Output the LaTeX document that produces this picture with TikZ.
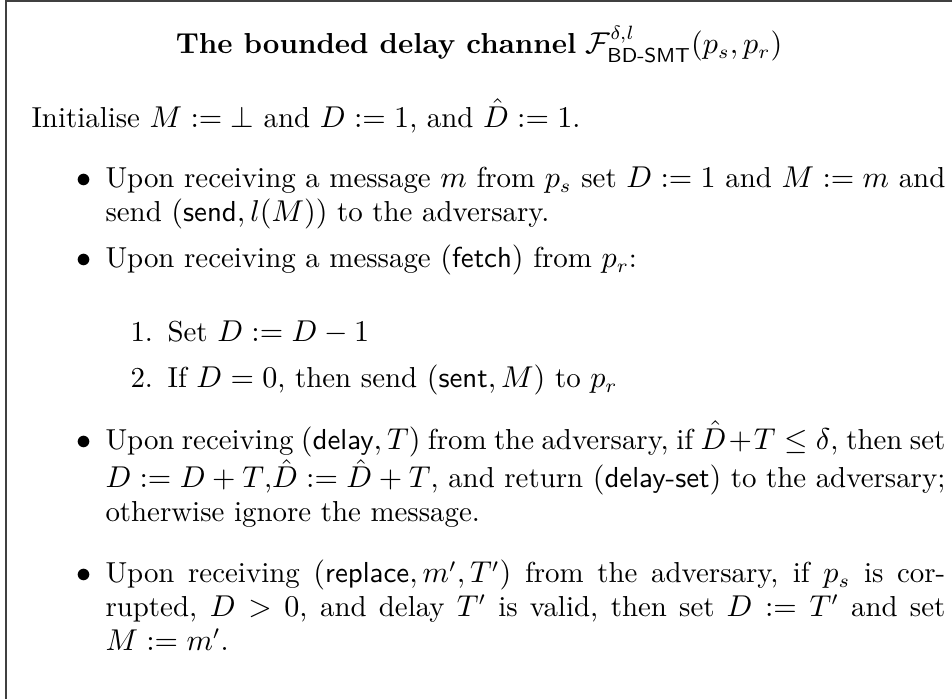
\documentclass[tikz,border=0pt]{standalone}
\usepackage{amsmath,amssymb}
\usepackage{xcolor}
\usepackage{tikz}

\begin{document}
\begin{tikzpicture}[
  txt/.style={anchor=base west, inner sep=0pt, font=\fontsize{10.5}{12.2}\selectfont},
  para/.style={txt, text width=10.73cm, align=justify},
  frame/.style={line width=0.5pt, draw=black!75}]
\useasboundingbox (0,0) rectangle (12.163,-8.930);
\draw[frame] (0.077,-12) -- (0.077,-0.013) -- (14,-0.013);
\node[txt, anchor=base] (title) at (6.12,-0.690) {\textbf{The bounded delay channel} $\mathcal{F}^{\delta,l}_{\textsf{BD-SMT}}(p_s,p_r)$};
\node[txt] (init) at (0.396,-1.623) {Initialise $M := \bot$ and $D := 1$, and $\hat{D} := 1$.};
% bullets
\node[txt] (d1) at (0.971,-2.402) {$\bullet$};
\node[para] (b1) at (1.341,-2.402) {Upon receiving a message $m$ from $p_s$ set $D := 1$ and $M := m$ and\linebreak send $(\textsf{send}, l(M))$ to the adversary.};
\node[txt] (d2) at (0.971,-3.424) {$\bullet$};
\node[para] (b2) at (1.341,-3.424) {Upon receiving a message $(\textsf{fetch})$ from $p_r$:};
\node[txt] (n1) at (1.661,-4.369) {1.};
\node[txt] (e1) at (2.134,-4.369) {Set $D := D-1$};
\node[txt] (n2) at (1.661,-4.957) {2.};
\node[txt] (e2) at (2.134,-4.957) {If $D=0$, then send $(\textsf{sent}, M)$ to $p_r$};
\node[txt] (d3) at (0.971,-5.737) {$\bullet$};
\node[para] (b3) at (1.341,-5.737) {Upon receiving $(\textsf{delay}, T)$ from the adversary, if $\hat{D}+T \leq \delta$, then set\linebreak $D := D+T$,$\hat{D} := \hat{D}+T$, and return $(\textsf{delay-set})$ to the adversary;\linebreak otherwise ignore the message.};
\node[txt] (d4) at (0.971,-7.448) {$\bullet$};
\node[para] (b4) at (1.341,-7.448) {Upon receiving $(\textsf{replace}, m', T')$ from the adversary, if $p_s$ is cor-\linebreak rupted, $D > 0$, and delay $T'$ is valid, then set $D := T'$ and set\linebreak $M := m'$.};
\end{tikzpicture}
\end{document}
